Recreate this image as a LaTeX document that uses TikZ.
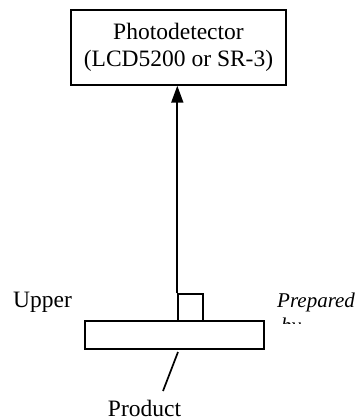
\documentclass[tikz,border=0pt]{standalone}
\usepackage{fontspec}
\setmainfont{Liberation Serif}
\usetikzlibrary{arrows.meta}
\begin{document}
\begin{tikzpicture}[x=1pt,y=-1pt,
  every node/.style={font=\fontsize{23.5pt}{27pt}\selectfont, inner sep=0pt},
  box/.style={draw, line width=1.4pt, fill=white},
  conn/.style={line width=1.7pt},
  note/.style={anchor=base west, font=\fontsize{21pt}{25pt}\selectfont\itshape}]
\useasboundingbox (0,0) rectangle (358,420);
\node[box, minimum width=215pt, minimum height=75pt, align=center] (det) at (178.5,47.5)
  {Photodetector\\(LCD5200 or SR-3)};
\node[box, minimum width=25pt, minimum height=27pt] (sq) at (190.5,307.5) {};
\node[box, minimum width=179pt, minimum height=28pt] (prod) at (174.5,335) {};
\draw[conn, -{Triangle[length=17pt,width=12pt]}] (sq.north west) -- (sq.north west |- det.south);
\coordinate (ltop) at (178,352);
\coordinate (lbot) at (163,391);
\draw[conn] (ltop) -- (lbot);
\node[anchor=base] (ptext) at (144.5,416) {Product};
\node[anchor=base west] (upper) at (13,307) {Upper};
\begin{scope}
\clip (270,280) rectangle (358,323);
\node[note] (prep) at (277,307) {Prepared};
\node[note] (by) at (281,332) {by};
\end{scope}
\end{tikzpicture}
\end{document}
